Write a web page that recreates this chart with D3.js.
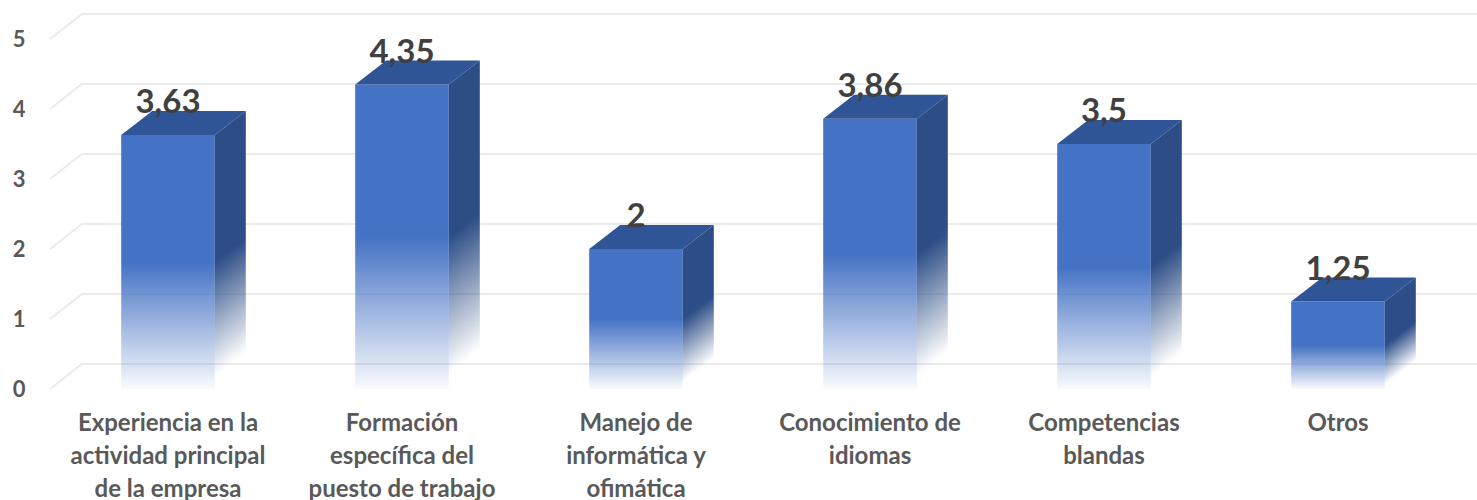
<!DOCTYPE html>
<html lang="es">
<head>
<meta charset="utf-8">
<script src="https://cdn.jsdelivr.net/npm/d3@7"></script>
<style>
  html, body { margin: 0; padding: 0; background: #ffffff; }
  svg { display: block; }
  text { font-family: Lato, "Open Sans", sans-serif; font-weight: 700; }
</style>
</head>
<body>
<svg id="chart" width="1477" height="500"></svg>
<script>
// Categories, split into the lines shown under each bar
const categories = [
  ["Experiencia en la", "actividad principal", "de la empresa"],
  ["Formación", "específica del", "puesto de trabajo"],
  ["Manejo de", "informática y", "ofimática"],
  ["Conocimiento de", "idiomas"],
  ["Competencias", "blandas"],
  ["Otros"]
];
const values = [3.63, 4.35, 2, 3.86, 3.5, 1.25];
const yTicks = [0, 1, 2, 3, 4, 5];

const W = 1477, H = 500;
const svg = d3.select("#chart");

// Oblique depth of the bars and of the back wall
const BX = 31, BY = -24;
const WX = 32, WY = -25;

const names = categories.map(c => c.join(" "));
const x = d3.scaleBand().domain(names).range([51, 1455]).paddingInner(0.6).paddingOuter(0.3);
const y = d3.scaleLinear().domain([0, 5]).range([389, 39]);
const bw = x.bandwidth();

const es = d3.formatLocale({ decimal: ",", thousands: ".", grouping: [3], currency: ["", " €"] });
const fmt = es.format(".3~g");

const defs = svg.append("defs");
const frontGrad = defs.append("linearGradient").attr("id", "frontFade")
  .attr("x1", 0).attr("y1", 0).attr("x2", 0).attr("y2", 1);
frontGrad.append("stop").attr("offset", 0).attr("stop-color", "#4472C4").attr("stop-opacity", 1);
frontGrad.append("stop").attr("offset", 0.5).attr("stop-color", "#4472C4").attr("stop-opacity", 1);
frontGrad.append("stop").attr("offset", 1).attr("stop-color", "#4472C4").attr("stop-opacity", 0.03);

const sideGrad = defs.append("linearGradient").attr("id", "sideFade")
  .attr("x1", 0).attr("y1", 0).attr("x2", 0).attr("y2", 1);
sideGrad.append("stop").attr("offset", 0).attr("stop-color", "#2C4D86").attr("stop-opacity", 1);
sideGrad.append("stop").attr("offset", 0.5).attr("stop-color", "#2C4D86").attr("stop-opacity", 1);
sideGrad.append("stop").attr("offset", 0.95).attr("stop-color", "#2C4D86").attr("stop-opacity", 0.0);

// Gridlines: floor diagonal on the left, then along the back wall
const grid = svg.append("g").attr("fill", "none").attr("stroke", "#EBEBEB").attr("stroke-width", 2);
grid.selectAll("path").data(yTicks).join("path")
  .attr("d", t => `M50,${y(t)} L${50 + WX},${y(t) + WY} L${W},${y(t) + WY}`);

// Value axis labels
const yAxis = d3.axisLeft(y).tickValues(yTicks).tickSize(0).tickPadding(0).tickFormat(d3.format("d"));
const ya = svg.append("g").attr("transform", "translate(19,0)").call(yAxis);
ya.select(".domain").remove();
ya.selectAll("text")
  .attr("text-anchor", "middle").attr("x", 0).attr("dy", "0.36em")
  .attr("fill", "#595959").style("font-size", "22px")
  .style("font-family", "Lato, 'Open Sans', sans-serif").style("font-weight", 700);

// Bars
const bars = svg.append("g").selectAll("g").data(values).join("g");

bars.append("rect")
  .attr("x", (d, i) => x(names[i])).attr("y", d => y(d))
  .attr("width", bw).attr("height", d => y(0) - y(d))
  .attr("fill", "url(#frontFade)");

bars.append("path")
  .attr("d", (d, i) => {
    const x0 = x(names[i]), yt = y(d);
    return `M${x0},${yt} L${x0 + BX},${yt + BY} L${x0 + bw + BX},${yt + BY} L${x0 + bw},${yt} Z`;
  })
  .attr("fill", "#2F5597");

bars.append("rect")
  .attr("x", 0).attr("y", 0).attr("width", BX)
  .attr("height", d => y(0) - y(d))
  .attr("transform", (d, i) => `translate(${x(names[i]) + bw},${y(d)}) matrix(1,${BY / BX},0,1,0,0)`)
  .attr("fill", "url(#sideFade)");

// Value labels above each bar
bars.append("text")
  .attr("x", (d, i) => x(names[i]) + bw / 2)
  .attr("y", d => y(d) + BY + 2)
  .attr("text-anchor", "middle")
  .attr("fill", "#404040").style("font-size", "33px")
  .text(d => fmt(d));

// Category labels
const cats = svg.append("g").selectAll("text").data(categories).join("text")
  .attr("x", (d, i) => x(names[i]) + bw / 2)
  .attr("y", 431)
  .attr("text-anchor", "middle")
  .attr("fill", "#595959").style("font-size", "24px");
cats.selectAll("tspan").data(d => d).join("tspan")
  .attr("x", function () { return this.parentNode.getAttribute("x"); })
  .attr("dy", (d, j) => j === 0 ? 0 : 33)
  .text(d => d);
</script>
</body>
</html>
